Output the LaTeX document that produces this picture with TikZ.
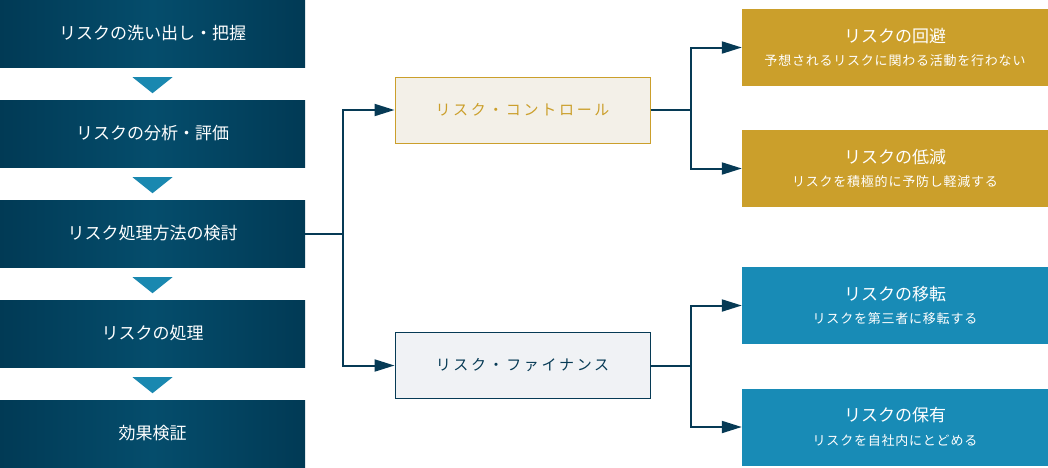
\documentclass[tikz,border=0pt]{standalone}
\usepackage{fontspec}
\setmainfont{Noto Sans CJK JP}
\usetikzlibrary{arrows.meta}
\definecolor{stepdark}{HTML}{013A55}
\definecolor{steplight}{HTML}{054D6C}
\definecolor{trifill}{HTML}{1A88B0}
\definecolor{linedark}{HTML}{063A55}
\definecolor{goldfill}{HTML}{CB9F2B}
\definecolor{goldpale}{HTML}{F3F0E8}
\definecolor{bluefill}{HTML}{188BB6}
\definecolor{bluepale}{HTML}{F0F2F5}

\begin{document}
\begin{tikzpicture}[x=1pt,y=-1pt,
    stepbox/.style={minimum width=305pt, minimum height=67pt, inner sep=0pt,
        left color=stepdark, right color=stepdark, middle color=steplight,
        text=white, font=\fontsize{17}{20}\selectfont},
    trimark/.style={fill=trifill},
    midbox/.style={minimum width=255pt, minimum height=66pt, inner sep=0pt, line width=1pt,
        font=\fontsize{15}{18}\selectfont\addfontfeatures{LetterSpace=18}},
    resbox/.style={minimum width=306pt, minimum height=77pt, inner sep=0pt, text=white,
        align=center, font=\fontsize{13}{23.5}\selectfont},
    conn/.style={draw=linedark, line width=2pt, -{Triangle[length=20pt,width=12pt]}}]
    \useasboundingbox (0,0) rectangle (1048,467);
    % Steps
    \foreach \name/\i in {リスクの洗い出し・把握/1,リスクの分析・評価/2,リスク処理方法の検討/3,リスクの処理/4,効果検証/5} {
        \node[stepbox] (Step-\i) at (152.5,{33.5+(\i-1)*100}) {\name};
        \ifnum \i<5
        \fill[trimark] (Step-\i.south) ++(-20,10) -- ++(40,0) -- ++(-20,16) -- cycle;
        \fi
    }
    % Control / Finance
    \node[midbox, fill=goldpale, draw=goldfill, text=goldfill] (Ctrl) at (522.5,110) {リスク・コントロール};
    \node[midbox, fill=bluepale, draw=linedark, text=linedark] (Fin) at (522.5,365.5) {リスク・ファイナンス};
    % Results
    \foreach \name/\desc/\i/\y in {リスクの回避/予想されるリスクに関わる活動を行わない/1/47.5,
                                   リスクの低減/リスクを積極的に予防し軽減する/2/168.5} {
        \node[resbox, fill=goldfill] (Ctrl-\i) at (895,\y)
            {{\fontsize{17}{20}\selectfont\name}\\{\addfontfeatures{LetterSpace=6}\desc}};
    }
    \foreach \name/\desc/\i/\y in {リスクの移転/リスクを第三者に移転する/1/305.5,
                                   リスクの保有/リスクを自社内にとどめる/2/427} {
        \node[resbox, fill=bluefill] (Fin-\i) at (895,\y)
            {{\fontsize{17}{20}\selectfont\name}\\{\addfontfeatures{LetterSpace=6}\desc}};
    }
    % Arrows
    \draw[conn] (Step-3.east) -- ++(38,0) |- (Ctrl.west);
    \draw[conn] (Step-3.east) -- ++(38,0) |- (Fin.west);
    \foreach \i in {1,2} {
        \draw[conn] (Ctrl.east) -- ++(40,0) |- (Ctrl-\i.west);
        \draw[conn] (Fin.east) -- ++(40,0) |- (Fin-\i.west);
    }
\end{tikzpicture}
\end{document}
